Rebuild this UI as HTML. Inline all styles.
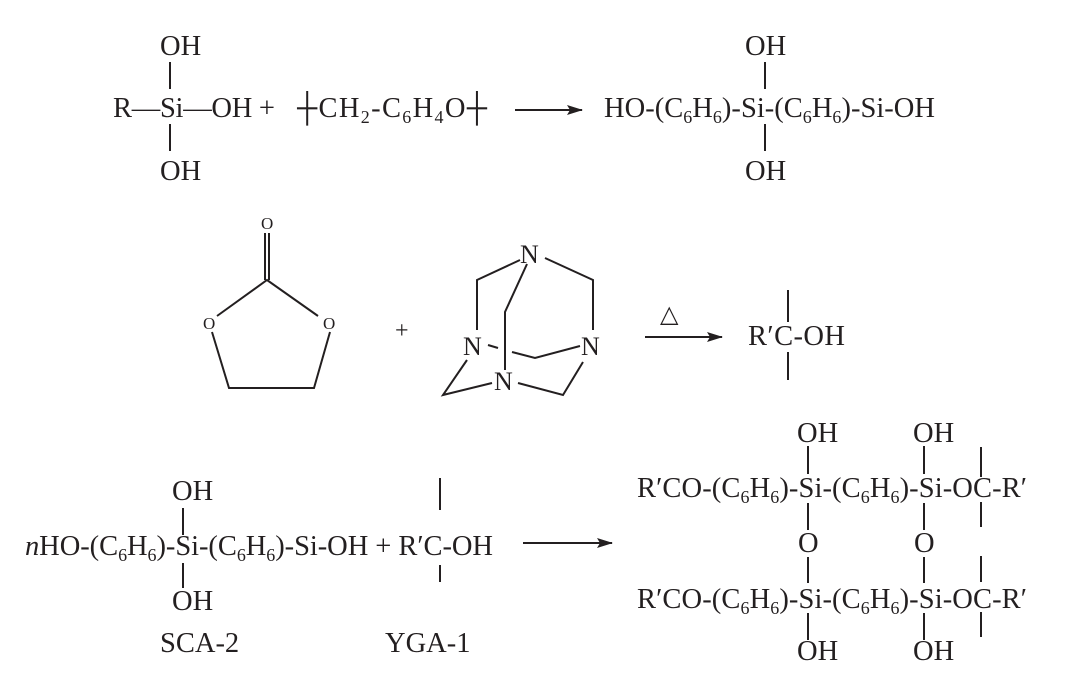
<!DOCTYPE html>
<html><head><meta charset="utf-8"><style>
html,body{margin:0;padding:0;background:#fff}
svg{display:block}
text{font-family:"Liberation Serif",serif;fill:#231f20;font-size:28.5px}
.s{font-size:18px}
line,polyline,path{stroke:#231f20;stroke-width:2;fill:none}
</style></head><body>
<svg width="1090" height="687" viewBox="0 0 1090 687" xmlns="http://www.w3.org/2000/svg">
<defs><marker id="ah" markerWidth="16" markerHeight="10" refX="15" refY="5" orient="auto" markerUnits="userSpaceOnUse"><path d="M0,0 L16,5 L0,10 L3,5 Z" style="fill:#231f20;stroke:none"/></marker></defs>
<!-- Row 1 -->
<text x="160" y="55">OH</text>
<line x1="170" y1="62" x2="170" y2="89"/>
<text x="113" y="117" textLength="162">R—Si—OH +</text>
<line x1="170" y1="124" x2="170" y2="151"/>
<text x="160" y="180">OH</text>
<text x="297" y="117" textLength="190">┼<tspan>CH</tspan><tspan class="s" dy="6">2</tspan><tspan dy="-6">-C</tspan><tspan class="s" dy="6">6</tspan><tspan dy="-6">H</tspan><tspan class="s" dy="6">4</tspan><tspan dy="-6">O┼</tspan></text>
<line x1="515" y1="110" x2="582" y2="110" marker-end="url(#ah)"/>
<text x="745" y="55">OH</text>
<line x1="765" y1="62" x2="765" y2="89"/>
<text x="604" y="117" textLength="331">HO-(C<tspan class="s" dy="6">6</tspan><tspan dy="-6">H</tspan><tspan class="s" dy="6">6</tspan><tspan dy="-6">)-Si-(C</tspan><tspan class="s" dy="6">6</tspan><tspan dy="-6">H</tspan><tspan class="s" dy="6">6</tspan><tspan dy="-6">)-Si-OH</tspan></text>
<line x1="765" y1="124" x2="765" y2="151"/>
<text x="745" y="180">OH</text>
<!-- Row 2 -->
<text x="261" y="229" style="font-size:17px">O</text>
<line x1="265" y1="233" x2="265" y2="280"/>
<line x1="269" y1="233" x2="269" y2="280"/>
<polyline points="217,316 267,280 318,316"/>
<text x="203" y="329" style="font-size:17px">O</text>
<text x="323" y="329" style="font-size:17px">O</text>
<polyline points="212,332 229,388 314,388 330,332"/>
<text x="395" y="338" style="font-size:24px">+</text>
<text x="520" y="263" style="font-size:26px">N</text>
<text x="463" y="355" style="font-size:26px">N</text>
<text x="581" y="355" style="font-size:26px">N</text>
<text x="494" y="390" style="font-size:26px">N</text>
<polyline points="520,260 477,280 477,330"/>
<polyline points="545,258 593,280 593,330"/>
<polyline points="527,264 505,312 505,370"/>
<line x1="488" y1="345" x2="498" y2="348"/>
<polyline points="512,352 535,358 580,346"/>
<polyline points="467,360 443,395 492,383"/>
<polyline points="518,383 563,395 583,362"/>
<text x="660" y="322" style="font-size:24px">△</text>
<line x1="645" y1="337" x2="722" y2="337" marker-end="url(#ah)"/>
<text x="748" y="345" textLength="97">R′C-OH</text>
<line x1="788" y1="290" x2="788" y2="322"/>
<line x1="788" y1="352" x2="788" y2="380"/>
<!-- Row 3 -->
<text x="172" y="500">OH</text>
<line x1="183" y1="508" x2="183" y2="535"/>
<text x="25" y="555" textLength="468"><tspan font-style="italic">n</tspan>HO-(C<tspan class="s" dy="6">6</tspan><tspan dy="-6">H</tspan><tspan class="s" dy="6">6</tspan><tspan dy="-6">)-Si-(C</tspan><tspan class="s" dy="6">6</tspan><tspan dy="-6">H</tspan><tspan class="s" dy="6">6</tspan><tspan dy="-6">)-Si-OH + R′C-OH</tspan></text>
<line x1="183" y1="563" x2="183" y2="588"/>
<text x="172" y="610">OH</text>
<line x1="440" y1="478" x2="440" y2="510"/>
<line x1="440" y1="565" x2="440" y2="582"/>
<text x="160" y="652">SCA-2</text>
<text x="385" y="652">YGA-1</text>
<line x1="523" y1="543" x2="612" y2="543" marker-end="url(#ah)"/>
<text x="797" y="442">OH</text>
<text x="913" y="442">OH</text>
<text x="637" y="497" textLength="390">R′CO-(C<tspan class="s" dy="6">6</tspan><tspan dy="-6">H</tspan><tspan class="s" dy="6">6</tspan><tspan dy="-6">)-Si-(C</tspan><tspan class="s" dy="6">6</tspan><tspan dy="-6">H</tspan><tspan class="s" dy="6">6</tspan><tspan dy="-6">)-Si-OC-R′</tspan></text>
<text x="798" y="552">O</text>
<text x="914" y="552">O</text>
<text x="637" y="608" textLength="390">R′CO-(C<tspan class="s" dy="6">6</tspan><tspan dy="-6">H</tspan><tspan class="s" dy="6">6</tspan><tspan dy="-6">)-Si-(C</tspan><tspan class="s" dy="6">6</tspan><tspan dy="-6">H</tspan><tspan class="s" dy="6">6</tspan><tspan dy="-6">)-Si-OC-R′</tspan></text>
<text x="797" y="660">OH</text>
<text x="913" y="660">OH</text>
<g>
<line x1="808" y1="446" x2="808" y2="474"/><line x1="808" y1="503" x2="808" y2="530"/>
<line x1="808" y1="557" x2="808" y2="583"/><line x1="808" y1="613" x2="808" y2="640"/>
<line x1="924" y1="446" x2="924" y2="474"/><line x1="924" y1="503" x2="924" y2="530"/>
<line x1="924" y1="557" x2="924" y2="583"/><line x1="924" y1="613" x2="924" y2="640"/>
<line x1="981" y1="447" x2="981" y2="477"/><line x1="981" y1="502" x2="981" y2="527"/>
<line x1="981" y1="556" x2="981" y2="582"/><line x1="981" y1="612" x2="981" y2="637"/>
</g>
</svg>
</body></html>
